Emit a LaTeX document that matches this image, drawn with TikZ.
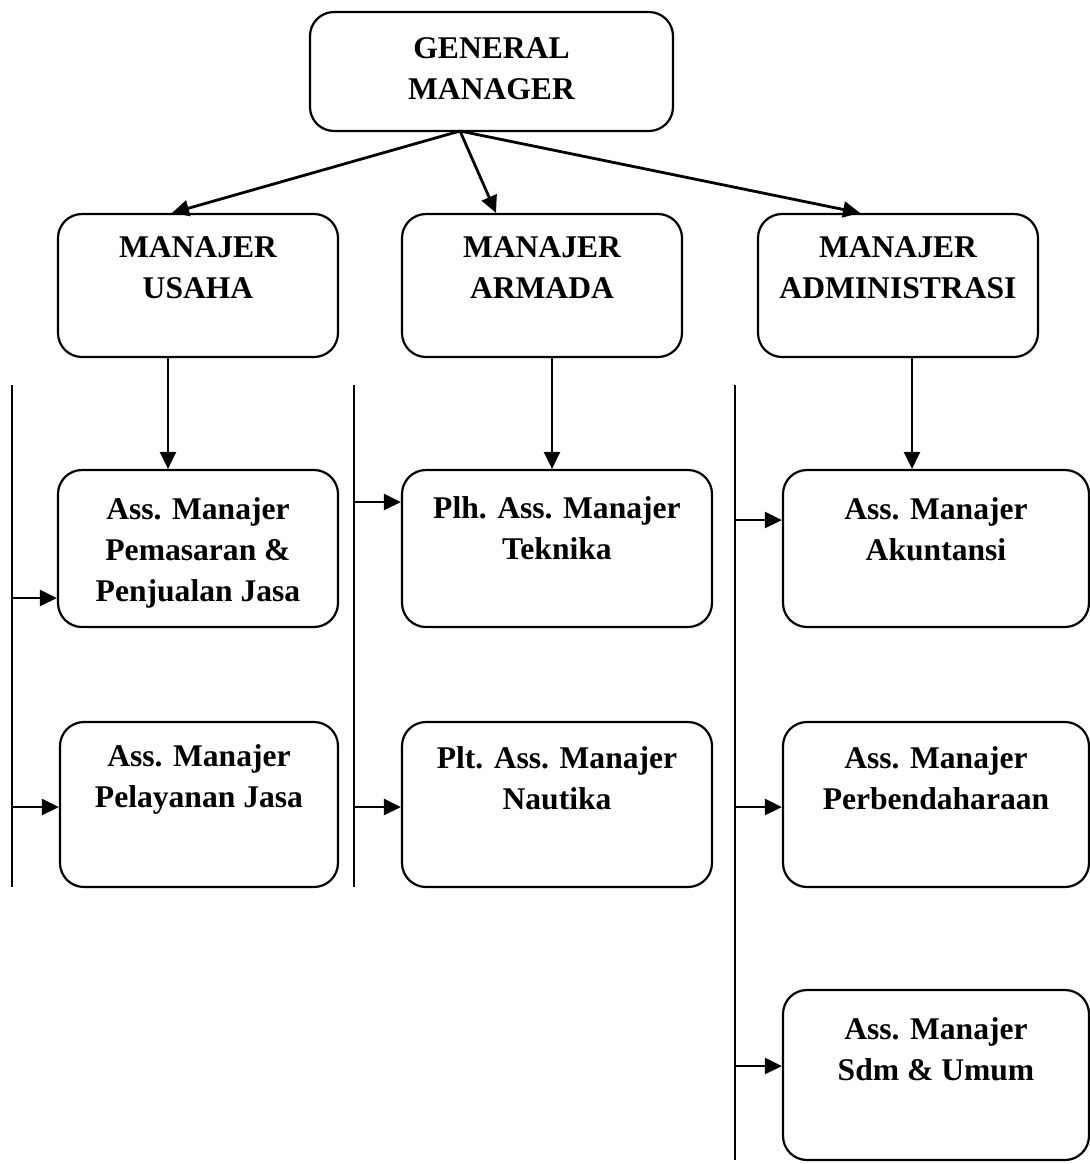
\documentclass[tikz,border=0pt]{standalone}
\usepackage{fontspec}
\setmainfont{Liberation Serif}
\usetikzlibrary{arrows.meta,fit}
\begin{document}
\begin{tikzpicture}[x=0.5pt,y=-0.5pt,
  box/.style={draw, line width=1.1pt, rounded corners=12pt, inner sep=0pt},
  lbl/.style={align=center, font=\fontsize{15.8}{20.5}\selectfont\bfseries, inner sep=0pt, anchor=base},
  arr/.style={line width=1.4pt, -{Triangle[length=8.5pt,width=8pt]}},
  bus/.style={line width=1.1pt}]
\useasboundingbox[fill=white] (0,0) rectangle (1090,1164);

% boxes
\node[box, fit={(310,12) (673,131)}] (gm) {};
\node[box, fit={(58,214) (338,357)}] (usaha) {};
\node[box, fit={(402,214) (682,357)}] (armada) {};
\node[box, fit={(758,214) (1038,357)}] (admin) {};
\node[box, fit={(58,470) (338,627)}] (pem) {};
\node[box, fit={(402,470) (712,627)}] (plh) {};
\node[box, fit={(783,470) (1089,627)}] (aku) {};
\node[box, fit={(60,722) (338,887)}] (pel) {};
\node[box, fit={(402,722) (712,887)}] (plt) {};
\node[box, fit={(783,722) (1089,887)}] (perb) {};
\node[box, fit={(783,990) (1089,1160)}] (sdm) {};

% labels (anchored at baseline of last line)
\node[lbl] (tgm) at (491.5,99) {GENERAL\\MANAGER};
\node[lbl] (tusaha) at (198,298) {MANAJER\\USAHA};
\node[lbl] (tarmada) at (542,298) {MANAJER\\ARMADA};
\node[lbl] (tadmin) at (898,298) {MANAJER\\ADMINISTRASI};
\node[lbl] (tpem) at (198,601) {Ass. Manajer\\Pemasaran \&\\Penjualan Jasa};
\node[lbl] (tplh) at (557,559) {Plh. Ass. Manajer\\Teknika};
\node[lbl] (taku) at (936,560) {Ass. Manajer\\Akuntansi};
\node[lbl] (tpel) at (199,807) {Ass. Manajer\\Pelayanan Jasa};
\node[lbl] (tplt) at (557,809) {Plt. Ass. Manajer\\Nautika};
\node[lbl] (tperb) at (936,809) {Ass. Manajer\\Perbendaharaan};
\node[lbl] (tsdm) at (936,1080) {Ass. Manajer\\Sdm \& Umum};

% top-level connectors
\coordinate (gmo) at (460,131);
\draw[arr] (gmo) -- (usaha.north -| 172,0);
\draw[arr] (gmo) -- (armada.north -| 496,0);
\draw[arr] (gmo) -- (admin.north -| 860,0);

% vertical connectors
\draw[arr] (usaha.south -| 168,0) -- (pem.north -| 168,0);
\draw[arr] (armada.south -| 552,0) -- (plh.north -| 552,0);
\draw[arr] (admin.south -| 912,0) -- (aku.north -| 912,0);

% bus lines
\coordinate (b1t) at (12,385);  \coordinate (b1b) at (12,887);
\coordinate (b2t) at (354,385); \coordinate (b2b) at (354,887);
\coordinate (b3t) at (735,385); \coordinate (b3b) at (735,1160);
\draw[bus] (b1t) -- (b1b);
\draw[bus] (b2t) -- (b2b);
\draw[bus] (b3t) -- (b3b);

% branch arrows
\coordinate (b1p) at (12,598);
\coordinate (b1q) at (12,807);
\coordinate (b2p) at (354,502);
\coordinate (b2q) at (354,807);
\coordinate (b3p) at (735,520);
\coordinate (b3q) at (735,807);
\coordinate (b3r) at (735,1066);
\draw[arr] (b1p) -- (b1p -| pem.west);
\draw[arr] (b1q) -- (b1q -| pel.west);
\draw[arr] (b2p) -- (b2p -| plh.west);
\draw[arr] (b2q) -- (b2q -| plt.west);
\draw[arr] (b3p) -- (b3p -| aku.west);
\draw[arr] (b3q) -- (b3q -| perb.west);
\draw[arr] (b3r) -- (b3r -| sdm.west);
\end{tikzpicture}
\end{document}
